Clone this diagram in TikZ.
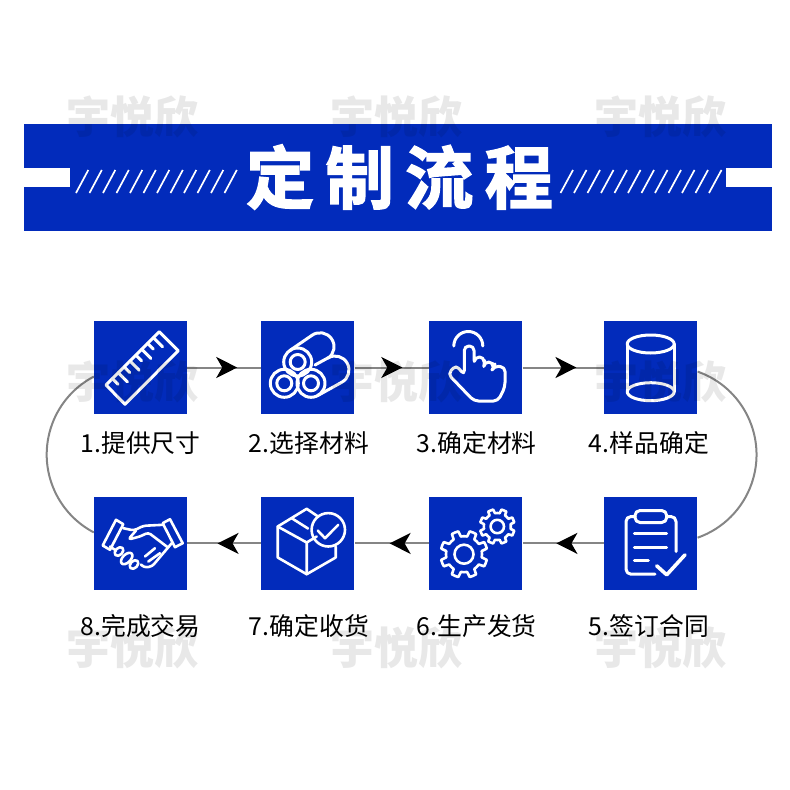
\documentclass[tikz,border=0pt]{standalone}
\usepackage{fontspec}
\usetikzlibrary{positioning,calc,arrows.meta,decorations.markings}
\newfontfamily\cjkfont{Noto Sans CJK SC}
\newfontfamily\cjktitle[LetterSpace=17,FakeBold=2.4]{Noto Sans CJK SC Bold}
\definecolor{brand}{HTML}{022BBB}
\definecolor{track}{HTML}{858585}
\tikzset{
  stepbox/.style={draw=none,fill=brand,minimum size=93pt,inner sep=0pt},
  steptext/.style={font=\cjkfont\fontsize{24.8}{26}\selectfont,text=black,inner sep=0pt},
  wmark/.style={font=\cjkfont\bfseries\fontsize{44}{46}\selectfont,text=black,opacity=0.09,inner sep=0pt},
  flow/.style={draw=track,line width=2pt},
  tipat/.style={postaction={decorate,decoration={markings,mark=at position #1 with {\arrow{Stealth[length=21pt,width=21pt,inset=6pt,black]}}}}},
  iconline/.style={draw=white,line width=3pt,line cap=round,line join=round},
  thinline/.style={iconline,line width=2.6pt},
  slash/.style={draw=white,line width=1.7pt}
}
\newcommand{\geartrain}[4]{% centre, outer radius, root radius, hole radius
  \begin{scope}[shift={#1}]
    \draw[thinline] (0:#3)
      \foreach \a in {0,45,...,315} {
        arc[start angle=\a,end angle=\a+10,radius=#3]
        -- (\a+14:#2) arc[start angle=\a+14,end angle=\a+31,radius=#2]
        -- (\a+35:#3) arc[start angle=\a+35,end angle=\a+45,radius=#3]
      } -- cycle;
    \draw[thinline] (0,0) circle[radius=#4];
  \end{scope}}
\begin{document}
\begin{tikzpicture}[x=1pt,y=-1pt]
\useasboundingbox (0,0) rectangle (790,790);
% banner
\fill[brand] (24,124) rectangle (772,231);
\fill[white] (24,168) rectangle (70,187);
\fill[white] (726,168) rectangle (772,187);
\foreach \s in {0,...,11} {
  \draw[slash] (76+13.5*\s,193) -- (88.3+13.5*\s,170);
  \draw[slash] (560.5+13.5*\s,193) -- (573+13.5*\s,170);
}
\node[font=\cjktitle\fontsize{68}{72}\selectfont,text=white,inner sep=0pt] (title) at (399.5,177) {定制流程};
% steps
\node[stepbox] (s1) at (140.5,367.5) {};
\node[stepbox,right=74pt of s1] (s2) {};
\node[stepbox,right=74.5pt of s2] (s3) {};
\node[stepbox,right=81.7pt of s3] (s4) {};
\node[stepbox,below=82.5pt of s1] (s8) {};
\node[stepbox,right=74pt of s8] (s7) {};
\node[stepbox,right=74.5pt of s7] (s6) {};
\node[stepbox,right=81.7pt of s6] (s5) {};
% labels
\node[steptext,below=17.5pt of s1] (t1) {1.提供尺寸};
\node[steptext,below=17.5pt of s2,xshift=1pt] (t2) {2.选择材料};
\node[steptext,below=17.5pt of s3,xshift=1pt] (t3) {3.确定材料};
\node[steptext,below=17.5pt of s4,xshift=-2pt] (t4) {4.样品确定};
\node[steptext,below=24pt of s5,xshift=-2pt] (t5) {5.签订合同};
\node[steptext,below=24pt of s6,xshift=1pt] (t6) {6.生产发货};
\node[steptext,below=24pt of s7,xshift=1pt] (t7) {7.确定收货};
\node[steptext,below=24pt of s8] (t8) {8.完成交易};
% connectors
\draw[flow,tipat=0.676] (s1) -- (s2);
\draw[flow,tipat=0.64] (s2) -- (s3);
\draw[flow,tipat=0.66] (s3) -- (s4);
\draw[flow,tipat=0.585] (s5) -- (s6);
\draw[flow,tipat=0.53] (s6) -- (s7);
\draw[flow,tipat=0.59] (s7) -- (s8);
\draw[flow] (s4.-5.5) arc[start angle=-70.7,end angle=70.7,radius=88];
\draw[flow] (s1.191.5) arc[start angle=242.3,end angle=117.7,radius=88];
% ruler
\begin{scope}[shift={(94,321)}]
  \draw[iconline] (65.3,10.7) -- (84.3,29.7) -- (31,83.3) -- (12,64) -- cycle;
  \foreach \t/\l in {.12/8,.23/13,.34/8,.45/13,.56/8,.67/13,.78/8,.89/13}
    \draw[iconline] ({12+53.3*\t},{64-53.3*\t}) -- ++({\l*.707},{\l*.707});
\end{scope}
% rolls
\begin{scope}[shift={(261,321)}]
  \draw[iconline] (36.7,41) circle[radius=14] (36.7,41) circle[radius=7.5];
  \draw[iconline] (23.3,62.3) circle[radius=14] (23.3,62.3) circle[radius=7.5];
  \draw[iconline] (50,62.3) circle[radius=14] (50,62.3) circle[radius=7.5];
  \draw[iconline] (28.8,29.5) -- (51.1,14.2) arc[start angle=235.5,end angle=415.5,radius=14];
  \draw[iconline] (54,44) -- (67.2,36.75) arc[start angle=241,end angle=421,radius=14] -- (56.8,74.55);
\end{scope}
% hand
\begin{scope}[shift={(429,321)}]
  \draw[iconline] (24.8,25) arc[start angle=180,end angle=360,radius=14.5];
  \draw[iconline,rounded corners=4.5] (35.3,54) -- (35.3,25) -- (45,25) -- (45,42) -- (46,36) -- (55,36) -- (55,44) -- (55.5,41) -- (64,41) -- (64,47) -- (65,45) -- (76,46) -- (76,66) -- (69,80) -- (45,80) -- (19,53) -- (27,44) -- cycle;
\end{scope}
% cylinder
\begin{scope}[shift={(604,321)}]
  \draw[iconline] (46.7,23) ellipse[x radius=23.5,y radius=9];
  \draw[iconline] (46.7,70.7) ellipse[x radius=23.5,y radius=9];
  \draw[iconline] (23.2,23) -- (23.2,70.7) (70.2,23) -- (70.2,70.7);
\end{scope}
% clipboard
\begin{scope}[shift={(604,496.5)}]
  \draw[iconline,rounded corners=5] (31,14) rectangle (62.7,26);
  \draw[iconline,rounded corners=5] (31,20) -- (22,20) -- (22,77.7) -- (51,77.7);
  \draw[iconline,rounded corners=5] (62.7,20) -- (72,20) -- (72,55);
  \draw[iconline] (30.3,37.3) -- (62.7,37.3) (30.3,50.7) -- (62.7,50.7) (30.3,64) -- (44.3,64);
  \draw[iconline,line width=3.6pt] (52.7,69.3) -- (62.7,78.3) -- (81,58.3);
\end{scope}
% gears
\begin{scope}[shift={(429,496.5)}]
  \geartrain{(35,57.7)}{23.5}{18}{9.5}
  \geartrain{(68.3,30)}{17.5}{13.5}{6.7}
\end{scope}
% box
\begin{scope}[shift={(261,496.5)}]
  \draw[thinline] (57,20) -- (45.7,12.3) -- (16.7,30) -- (16.7,61) -- (45.7,77.7) -- (74.7,61) -- (74.7,50);
  \draw[thinline] (16.7,30) -- (45.7,46) -- (45.7,77.7) (45.7,46) -- (55.7,40) (30.7,21.7) -- (47,32);
  \draw[thinline] (67.3,33.3) circle[radius=16.7];
  \draw[thinline] (56.7,34) -- (64,41.7) -- (77.3,28.3);
\end{scope}
% handshake
\begin{scope}[shift={(94,496.5)}]
  \draw[thinline] (22,23.3) -- (29.3,27.7) -- (16,53.3) -- (8.7,49) -- cycle;
  \draw[thinline] (76,22.7) -- (88.7,46.7) -- (81,50.7) -- (68.7,26.7) -- cycle;
  \draw[thinline,rounded corners=3] (29.3,31.7) -- (40,34) -- (49.3,29.3) -- (69.3,28.3);
  \draw[thinline,rounded corners=3] (42,34) -- (34.3,43) -- (46,40) -- (54.3,36) -- (74,51);
  \draw[thinline,rounded corners=3] (77.7,46.7) -- (58,70) -- (50,71) -- (47,68);
  \draw[thinline] (16,50) -- (22,54);
  \draw[thinline,rotate around={45:(25,55)}] (25,55) ellipse[x radius=5,y radius=3.5];
  \draw[thinline,rotate around={45:(32.7,62)}] (32.7,62) ellipse[x radius=7,y radius=4];
  \draw[thinline,rotate around={45:(40,68)}] (40,68) ellipse[x radius=5,y radius=3.5];
  \draw[thinline] (51,60) -- (61,51.7) (54.3,65) -- (66,56.7);
\end{scope}
% watermark
\node[wmark] (w1) at (132,117) {宇悦欣};
\node[wmark] (w2) at (396,117) {宇悦欣};
\node[wmark] (w3) at (660,117) {宇悦欣};
\node[wmark] (w4) at (132,382) {宇悦欣};
\node[wmark] (w5) at (396,382) {宇悦欣};
\node[wmark] (w6) at (660,382) {宇悦欣};
\node[wmark] (w7) at (132,648) {宇悦欣};
\node[wmark] (w8) at (396,648) {宇悦欣};
\node[wmark] (w9) at (660,648) {宇悦欣};
\end{tikzpicture}
\end{document}
